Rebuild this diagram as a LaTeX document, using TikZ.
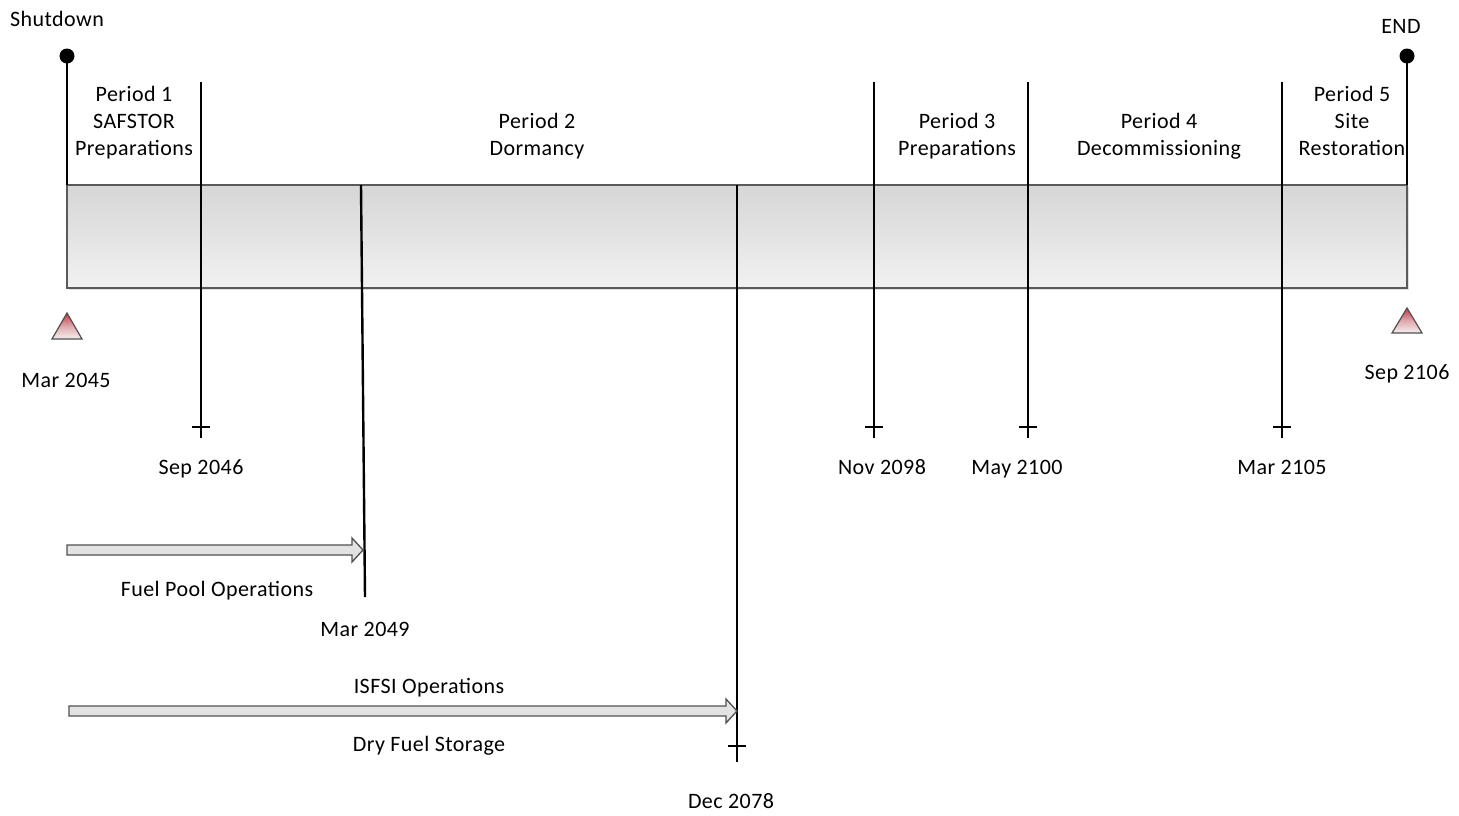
\documentclass[tikz,border=0pt]{standalone}
\usepackage{fontspec}
\setmainfont{Carlito}[LetterSpace=2]
\usetikzlibrary{shadows}
\definecolor{barTop}{RGB}{214,214,214}
\definecolor{barBot}{RGB}{241,241,241}
\definecolor{barEdge}{RGB}{90,90,90}
\definecolor{triTop}{RGB}{192,58,70}
\definecolor{triBot}{RGB}{246,240,240}
\definecolor{arrEdge}{RGB}{80,80,80}
\begin{document}
\begin{tikzpicture}[x=1pt,y=-1pt,
  lbl/.style={font=\fontsize{22}{27}\selectfont, align=center, inner sep=0pt, anchor=base},
  mline/.style={line width=2.4pt, black},
  tickmark/.style={line width=2pt, black},
  bar/.style={draw=barEdge, line width=1.4pt, top color=barTop, bottom color=barBot,
     drop shadow={shadow xshift=2pt, shadow yshift=-2pt, opacity=0.25, fill=gray}},
  tri/.style={draw=arrEdge, line width=1.2pt, top color=triTop, bottom color=triBot, middle color=triBot!60!triTop},
  fatarrow/.style={draw=arrEdge, line width=1.3pt, top color=white!80!gray, bottom color=gray!25}
]
\useasboundingbox (0,0) rectangle (1459,815);

% main bar
\path[bar] (67,185) rectangle (1407,288);

% start / end markers
\coordinate (sdot) at (67,56);
\coordinate (sbar) at (67,185);
\coordinate (edot) at (1407,56);
\coordinate (ebar) at (1407,185);
\draw[mline] (sdot) -- (sbar);
\draw[mline] (edot) -- (ebar);
\fill (sdot) circle (7.5);
\fill (edot) circle (7.5);
\node[lbl] (shutdown) at (57,26) {Shutdown};
\node[lbl] (endlbl) at (1401,33) {END};

% milestone lines
\coordinate (a1) at (201,82);   \coordinate (a2) at (201,438);
\coordinate (b1) at (361,185);  \coordinate (b2) at (365,597);
\coordinate (c1) at (737,185);  \coordinate (c2) at (737,762);
\coordinate (d1) at (874,82);   \coordinate (d2) at (874,438);
\coordinate (e1) at (1028,82);  \coordinate (e2) at (1028,438);
\coordinate (f1) at (1282,82);  \coordinate (f2) at (1282,438);
\draw[mline] (a1) -- (a2);
\draw[mline] (b1) -- (b2);
\draw[mline] (c1) -- (c2);
\draw[mline] (d1) -- (d2);
\draw[mline] (e1) -- (e2);
\draw[mline] (f1) -- (f2);

% ticks
\foreach \x/\n in {201/ta,874/td,1028/te,1282/tf}{
  \coordinate (\n l) at (\x-9,427); \coordinate (\n r) at (\x+9,427);
  \draw[tickmark] (\n l) -- (\n r);
}
\coordinate (tcl) at (728,746); \coordinate (tcr) at (746,746);
\draw[tickmark] (tcl) -- (tcr);

% dates
\node[lbl] (dA) at (201,474) {Sep 2046};
\node[lbl] (dB) at (365,636) {Mar 2049};
\node[lbl] (dC) at (731,808) {Dec 2078};
\node[lbl] (dD) at (882,474) {Nov 2098};
\node[lbl] (dE) at (1017,474) {May 2100};
\node[lbl] (dF) at (1282,474) {Mar 2105};
\node[lbl] (dS) at (66,387) {Mar 2045};
\node[lbl] (dN) at (1407,379) {Sep 2106};

% triangles
\path[tri] (67,313) -- (82,339) -- (52,339) -- cycle;
\path[tri] (1407,308) -- (1422,333) -- (1392,333) -- cycle;

% period labels (base = last line)
\node[lbl] (p1) at (134,155) {Period 1\\SAFSTOR\\Preparations};
\node[lbl] (p2) at (537,155) {Period 2\\Dormancy};
\node[lbl] (p3) at (957,155) {Period 3\\Preparations};
\node[lbl] (p4) at (1159,155) {Period 4\\Decommissioning};
\node[lbl] (p5) at (1352,155) {Period 5\\Site\\Restoration};

% fuel pool arrow
\path[fatarrow] (67,545) -- (352,545) -- (352,538) -- (363,550) -- (352,562) -- (352,555) -- (67,555) -- cycle;
\node[lbl] (fp) at (217,596) {Fuel Pool Operations};

% ISFSI arrow
\path[fatarrow] (69,706) -- (726,706) -- (726,699) -- (737,711) -- (726,723) -- (726,716) -- (69,716) -- cycle;
\node[lbl] (isfsi) at (429,693) {ISFSI Operations};
\node[lbl] (dry) at (429,751) {Dry Fuel Storage};
\end{tikzpicture}
\end{document}
